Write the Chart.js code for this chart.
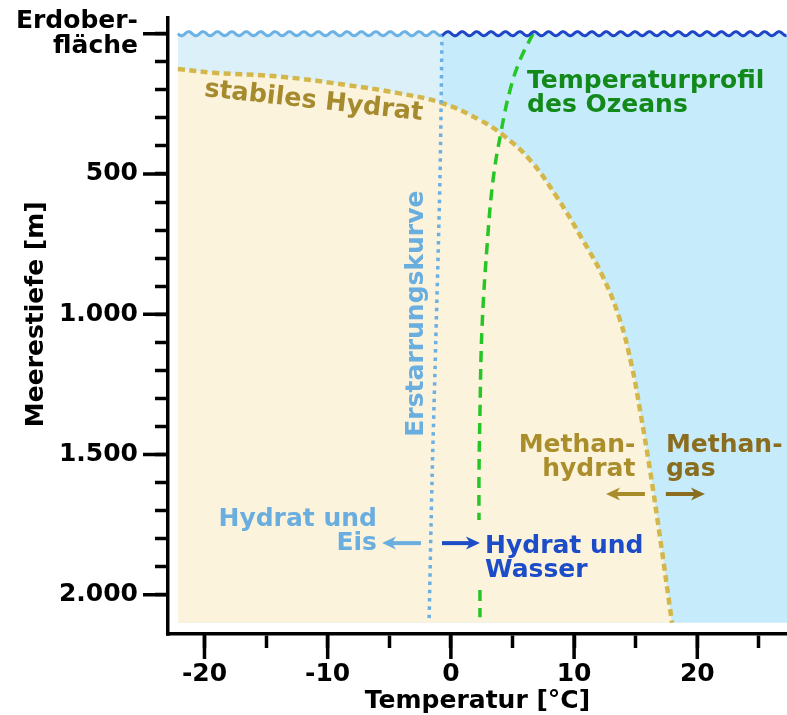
<!DOCTYPE html>
<html lang="de">
<head>
<meta charset="utf-8">
<title>Methanhydrat – Stabilität</title>
<script src="https://cdn.jsdelivr.net/npm/chart.js@4.4.1/dist/chart.umd.min.js"></script>
<style>
  html, body { margin: 0; padding: 0; background: #fff; }
  #wrap { width: 787px; height: 715px; }
</style>
</head>
<body>
<div id="wrap"><canvas id="grafico" width="787" height="715"></canvas></div>
<script>
// Stabilitätsgrenze Methanhydrat (Temperatur in °C, Tiefe in m)
const hydratTemp  = [-22.16, -19.3, -13.87, -8.43, -4.38, -0.72, 2.36, 4.23, 6.42, 8.6, 10.7, 12.35, 13.73, 14.7, 15.35, 16.16, 16.97, 17.95];
const hydratTiefe = [126, 139, 153, 183, 211, 247, 308, 361, 450, 582, 735, 867, 1021, 1188, 1342, 1555, 1794, 2100];

// Erstarrungskurve (Gefrierpunkt)
const eisTemp  = [-0.72, -0.89, -1.29, -1.53, -1.77];
const eisTiefe = [0, 522, 1199, 1591, 2095];

// Temperaturprofil des Ozeans (oberer und unterer Teil, Lücke beim Text)
const ozeanTempOben  = [6.66, 5.61, 4.8, 4.07, 3.42, 2.93, 2.52, 2.36, 2.28, 2.28];
const ozeanTiefeOben = [0, 94, 201, 350, 522, 760, 1056, 1352, 1580, 1734];
const ozeanTempUnten  = [2.36, 2.36];
const ozeanTiefeUnten = [1983, 2080];

// Flächen: Meer und Eisbereich
const meerTemp  = [-22.16, 27.28];
const meerTiefe = [0, 0];
const eisFlaecheTemp  = [-22.16, -0.72];
const eisFlaecheTiefe = [0, 0];
const bodenTiefe = 2100;

// Achsen
const xTickValues  = [-20, -15, -10, -5, 0, 5, 10, 15, 20, 25];
const xLabelValues = [-20, -10, 0, 10, 20];
const yTickValues  = [0, 100, 200, 300, 400, 500, 600, 700, 800, 900, 1000, 1100, 1200, 1300, 1400, 1500, 1600, 1700, 1800, 1900, 2000];
const yLabelValues = [0, 500, 1000, 1500, 2000];
const yLabelTexts  = [['Erdober-', 'fläche'], '500', '1.000', '1.500', '2.000'];

const FONT = 'DejaVu Sans';
const pts = (xs, ys) => xs.map((v, i) => ({ x: v, y: ys[i] }));

const anotaciones = {
    id: 'anotaciones',
    afterDatasetsDraw(chart) {
        const { ctx, chartArea, scales: { x, y } } = chart;
        const px = v => x.getPixelForValue(v);
        const py = v => y.getPixelForValue(v);
        ctx.save();

        // Wasseroberfläche (Wellenlinie)
        const y0 = py(0), xa = px(meerTemp[0]), xb = px(eisFlaecheTemp[1]), xe = chartArea.right;
        function welle(from, to, color) {
            ctx.beginPath();
            for (let xx = from; xx <= to; xx += 0.5) {
                const yy = y0 + 2 * Math.sin((xx - xa) * 2 * Math.PI / 14.4);
                if (xx === from) ctx.moveTo(xx, yy); else ctx.lineTo(xx, yy);
            }
            ctx.strokeStyle = color;
            ctx.lineWidth = 3;
            ctx.stroke();
        }
        welle(xa, xb, '#6CB2E4');
        welle(xb, xe, '#1E46C8');

        // lange Teilstriche
        ctx.strokeStyle = '#000';
        ctx.lineWidth = 3.5;
        ctx.beginPath();
        yLabelValues.forEach(v => { ctx.moveTo(chartArea.left - 25, py(v)); ctx.lineTo(chartArea.left, py(v)); });
        xLabelValues.forEach(v => { ctx.moveTo(px(v), chartArea.bottom); ctx.lineTo(px(v), chartArea.bottom + 25); });
        ctx.stroke();
        ctx.fillStyle = '#000';
        ctx.fillRect(chartArea.left - 1.75, chartArea.bottom - 1.75, 3.5, 3.5);

        // Y-Achsentitel
        ctx.save();
        ctx.translate(36, py(1000));
        ctx.rotate(-Math.PI / 2);
        ctx.font = 'bold 25px "' + FONT + '"';
        ctx.textAlign = 'center';
        ctx.textBaseline = 'middle';
        ctx.fillText('Meerestiefe [m]', 0, 0);
        ctx.restore();

        // Beschriftungen
        const notas = [
            { lines: ['Temperaturprofil', 'des Ozeans'], t: 6.18, d: 194, color: '#12891A', align: 'left' },
            { lines: ['Methan-', 'hydrat'], t: 14.97, d: 1491, color: '#AB8E2C', align: 'right' },
            { lines: ['Methan-', 'gas'], t: 17.45, d: 1491, color: '#8A6D1E', align: 'left' },
            { lines: ['Hydrat und', 'Eis'], t: -6.0, d: 1755, color: '#6AAEE0', align: 'right' },
            { lines: ['Hydrat und', 'Wasser'], t: 2.77, d: 1851, color: '#1D4CC8', align: 'left' }
        ];
        ctx.font = 'bold 25px "' + FONT + '"';
        ctx.textBaseline = 'alphabetic';
        notas.forEach(n => {
            ctx.fillStyle = n.color;
            ctx.textAlign = n.align;
            n.lines.forEach((l, i) => ctx.fillText(l, px(n.t), py(n.d) + i * 24));
        });

        // stabiles Hydrat (leicht geneigt)
        ctx.save();
        ctx.translate(px(-11.2), py(265));
        ctx.rotate(6.3 * Math.PI / 180);
        ctx.font = 'bold 25.5px "' + FONT + '"';
        ctx.fillStyle = '#A68B2E';
        ctx.textAlign = 'center';
        ctx.fillText('stabiles Hydrat', 0, 0);
        ctx.restore();

        // Erstarrungskurve (senkrecht)
        ctx.save();
        ctx.translate(px(-2.26), py(998));
        ctx.rotate(-Math.PI / 2);
        ctx.font = 'bold 25px "' + FONT + '"';
        ctx.fillStyle = '#6AAEE0';
        ctx.textAlign = 'center';
        ctx.fillText('Erstarrungskurve', 0, 0);
        ctx.restore();

        // Pfeile
        function pfeil(t1, t2, d, color) {
            const x1 = px(t1), x2 = px(t2), yy = py(d), dir = Math.sign(x2 - x1);
            ctx.strokeStyle = color;
            ctx.fillStyle = color;
            ctx.lineWidth = 4;
            ctx.beginPath();
            ctx.moveTo(x1, yy);
            ctx.lineTo(x2 - dir * 9, yy);
            ctx.stroke();
            ctx.beginPath();
            ctx.moveTo(x2, yy);
            ctx.lineTo(x2 - dir * 14, yy - 6.5);
            ctx.lineTo(x2 - dir * 10, yy);
            ctx.lineTo(x2 - dir * 14, yy + 6.5);
            ctx.closePath();
            ctx.fill();
        }
        pfeil(15.75, 12.59, 1641, '#A98C2A');
        pfeil(17.45, 20.62, 1641, '#8A6D1E');
        pfeil(-2.43, -5.59, 1816, '#6AAEE0');
        pfeil(-0.72, 2.36, 1816, '#1D4CC8');

        ctx.restore();
    }
};

const ctxGrafico = document.getElementById('grafico').getContext('2d');
new Chart(ctxGrafico, {
    type: 'line',
    data: {
        datasets: [
            {
                // Meer (hellblau-türkis)
                data: pts(meerTemp, meerTiefe),
                borderWidth: 0,
                backgroundColor: '#C6ECFB',
                fill: { value: bodenTiefe },
                order: 6
            },
            {
                // Eisbereich oberhalb der Stabilitätsgrenze
                data: pts(eisFlaecheTemp, eisFlaecheTiefe),
                borderWidth: 0,
                backgroundColor: '#DCF0FA',
                fill: { value: 400 },
                order: 5
            },
            {
                // stabiles Hydrat
                data: pts(hydratTemp, hydratTiefe),
                borderColor: '#D3B74B',
                borderWidth: 4.5,
                borderDash: [7, 4.5],
                backgroundColor: '#FBF3DC',
                fill: { value: bodenTiefe },
                tension: 0.4,
                order: 4
            },
            {
                // Erstarrungskurve
                data: pts(eisTemp, eisTiefe),
                borderColor: '#6AB0E4',
                borderWidth: 3.5,
                borderDash: [3.5, 4.8],
                fill: false,
                tension: 0.3,
                order: 3
            },
            {
                data: pts(ozeanTempOben, ozeanTiefeOben),
                borderColor: '#27C627',
                borderWidth: 3.5,
                borderDash: [11, 7],
                fill: false,
                tension: 0.4,
                order: 2
            },
            {
                data: pts(ozeanTempUnten, ozeanTiefeUnten),
                borderColor: '#27C627',
                borderWidth: 3.5,
                borderDash: [11, 7],
                fill: false,
                order: 1
            }
        ]
    },
    options: {
        responsive: false,
        animation: false,
        devicePixelRatio: 1,
        events: [],
        layout: { padding: { top: 18, left: 0, right: 0, bottom: 0 } },
        elements: { point: { radius: 0 } },
        plugins: { legend: { display: false }, tooltip: { enabled: false } },
        scales: {
            x: {
                type: 'linear',
                min: -22.96,
                max: 27.28,
                afterBuildTicks: s => { s.ticks = xTickValues.map(v => ({ value: v })); },
                afterFit: s => { s.height = 81; s.paddingLeft = 0; s.paddingRight = 0; },
                grid: { drawOnChartArea: false, drawTicks: true, tickLength: 14, tickWidth: 3.5, tickColor: '#000', color: '#000' },
                border: { display: true, color: '#000', width: 3.5 },
                ticks: {
                    autoSkip: false,
                    maxRotation: 0,
                    padding: 11,
                    color: '#000',
                    font: { family: FONT, size: 25, weight: 'bold', lineHeight: 1.2 },
                    callback: v => xLabelValues.includes(v) ? String(v) : ''
                },
                title: {
                    display: true,
                    text: 'Temperatur [°C]',
                    color: '#000',
                    font: { family: FONT, size: 25, weight: 'bold', lineHeight: 1 },
                    padding: { top: 0, bottom: 1 }
                }
            },
            y: {
                type: 'linear',
                reverse: true,
                min: -56,
                max: 2140,
                afterBuildTicks: s => { s.ticks = yTickValues.map(v => ({ value: v })); },
                afterFit: s => { s.width = 168; s.paddingTop = 0; s.paddingBottom = 0; },
                grid: { drawOnChartArea: false, drawTicks: true, tickLength: 13, tickWidth: 3.5, tickColor: '#000', color: '#000' },
                border: { display: true, color: '#000', width: 3.5 },
                ticks: {
                    autoSkip: false,
                    padding: 17,
                    color: '#000',
                    font: { family: FONT, size: 25, weight: 'bold', lineHeight: 1 },
                    callback: v => {
                        const i = yLabelValues.indexOf(v);
                        return i >= 0 ? yLabelTexts[i] : '';
                    }
                }
            }
        }
    },
    plugins: [anotaciones]
});
</script>
</body>
</html>
